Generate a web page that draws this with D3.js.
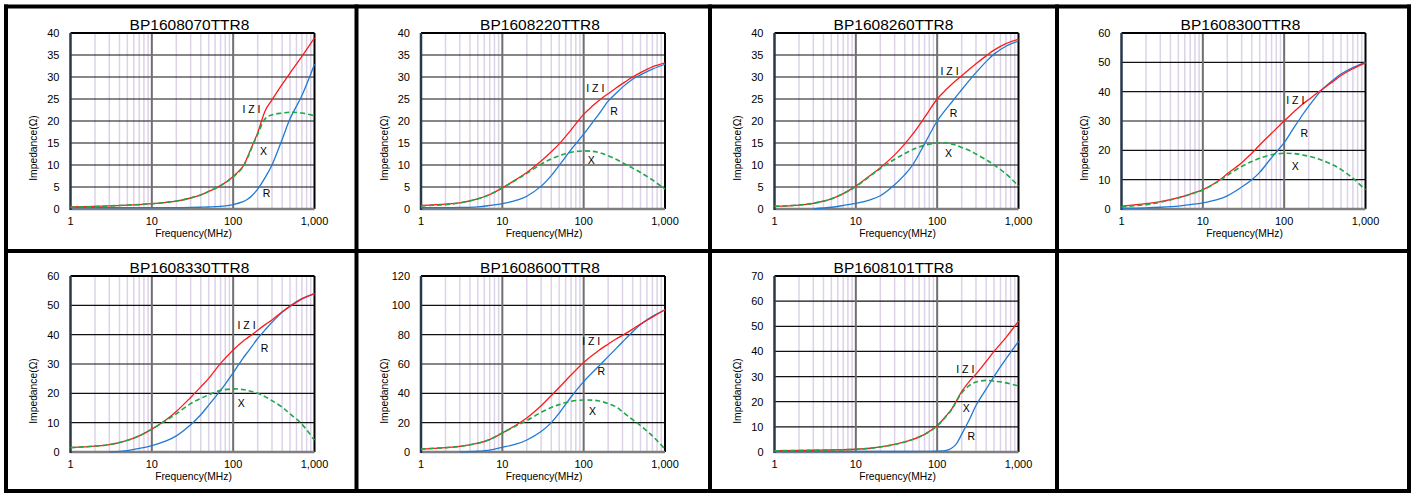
<!DOCTYPE html>
<html lang="en">
<head>
<meta charset="UTF-8">
<title>BP1608 Impedance vs Frequency</title>
<script src="https://d3js.org/d3.v7.min.js"></script>
<style>
    body { margin: 0; background: #fff; }
    svg text { font-family: "Liberation Sans", Arial, sans-serif; fill: #000; }
    .title { font-size: 15.5px; text-anchor: middle; }
    .tick { font-size: 11px; }
    .axis-title { font-size: 10.3px; text-anchor: middle; }
    .curve-label { font-size: 10.5px; text-anchor: middle; }
</style>
</head>
<body>
<svg id="main" width="1415" height="494"></svg>
<script>
    // frequency points (MHz) shared by every series
    const freq = [1, 2, 3, 5, 7, 10, 15, 20, 30, 40, 50, 70, 100, 130, 150, 170, 200, 250, 300, 400, 500, 700, 1000];

    const titles = ['BP1608070TTR8', 'BP1608220TTR8', 'BP1608260TTR8', 'BP1608300TTR8',
        'BP1608330TTR8', 'BP1608600TTR8', 'BP1608101TTR8'];
    const yMax = [40, 40, 40, 60, 60, 120, 70];
    const yStep = [5, 5, 5, 10, 10, 20, 10];
    const xTicks = [1, 10, 100, 1000];

    // |Z| (red)
    const zVals = [
        [0.5, 0.6, 0.7, 0.9, 1.0, 1.2, 1.5, 1.8, 2.5, 3.2, 4.0, 5.3, 7.4, 9.5, 11.8, 14.2, 17.3, 22.5, 24.8, 28.3, 30.9, 34.7, 38.9],
        [0.8, 1.1, 1.4, 2.3, 3.3, 4.8, 6.8, 8.3, 10.9, 13.0, 14.8, 18.0, 21.5, 23.5, 24.5, 25.3, 26.2, 27.5, 28.5, 30.0, 31.0, 32.3, 33.2],
        [0.6, 0.9, 1.3, 2.3, 3.5, 5.2, 7.6, 9.4, 12.3, 14.8, 17.0, 20.8, 25.0, 27.2, 28.3, 29.2, 30.3, 31.8, 33.0, 34.8, 36.1, 37.6, 38.6],
        [1.0, 1.8, 2.5, 3.9, 5.1, 6.6, 9.3, 12.0, 15.8, 19.0, 21.8, 25.8, 30.0, 33.0, 34.5, 35.8, 37.3, 39.4, 41.0, 43.5, 45.5, 47.8, 49.8],
        [1.5, 2.0, 2.5, 4.0, 5.5, 7.8, 11.0, 13.8, 18.6, 22.2, 25.1, 30.2, 34.8, 37.6, 38.9, 40.0, 41.5, 43.5, 45.0, 47.8, 49.6, 52.2, 54.0],
        [2.0, 3.0, 3.8, 6.0, 8.5, 13.0, 18.6, 23.2, 31.5, 38.5, 44.0, 52.5, 61.0, 66.2, 68.8, 71.0, 73.5, 77.0, 79.5, 83.8, 87.2, 92.0, 97.0],
        [0.5, 0.6, 0.7, 0.8, 0.9, 1.1, 1.5, 2.0, 3.0, 4.0, 5.0, 7.0, 10.5, 14.5, 17.0, 20.0, 24.0, 28.2, 31.0, 36.0, 40.0, 45.5, 52.0]
    ];

    // R (blue)
    const rVals = [
        [0.3, 0.3, 0.3, 0.3, 0.3, 0.3, 0.3, 0.3, 0.35, 0.4, 0.45, 0.6, 1.0, 1.6, 2.2, 3.0, 4.5, 7.3, 10.0, 15.8, 20.5, 25.8, 32.9],
        [0.3, 0.3, 0.35, 0.5, 0.8, 1.2, 2.0, 2.9, 5.2, 7.6, 9.9, 13.5, 17.0, 19.8, 21.3, 22.7, 24.5, 26.3, 27.7, 29.5, 30.5, 31.8, 32.9],
        [null, null, 0.05, 0.4, 0.8, 1.3, 2.1, 3.0, 5.5, 7.8, 10.0, 14.8, 20.0, 22.8, 24.2, 25.5, 27.1, 29.3, 31.0, 33.5, 35.2, 37.0, 38.2],
        [0.3, 0.4, 0.6, 1.0, 1.5, 2.1, 3.2, 4.5, 7.5, 10.0, 12.5, 17.5, 22.6, 27.5, 30.0, 32.3, 35.0, 38.5, 41.0, 44.0, 46.0, 48.2, 50.0],
        [null, null, 0.05, 0.5, 1.2, 2.2, 3.8, 5.5, 9.3, 12.7, 16.0, 21.0, 27.0, 31.7, 34.0, 36.0, 38.7, 41.8, 44.2, 47.6, 49.8, 52.3, 54.0],
        [null, null, 0.05, 0.5, 1.3, 3.2, 5.5, 8.2, 14.0, 20.0, 26.5, 37.5, 48.0, 54.5, 58.0, 61.0, 65.0, 70.5, 75.0, 82.0, 87.0, 92.5, 97.0],
        [0.2, 0.2, 0.2, 0.2, 0.2, 0.2, 0.2, 0.2, 0.2, 0.2, 0.2, 0.25, 0.3, 0.6, 1.5, 3.0, 7.0, 13.0, 18.5, 25.0, 30.0, 37.0, 44.0]
    ];

    // X (green, dashed)
    const xVals = [
        [0.4, 0.55, 0.7, 0.9, 1.0, 1.2, 1.5, 1.8, 2.5, 3.2, 4.0, 5.3, 7.3, 9.4, 11.6, 14.0, 17.0, 20.6, 21.4, 21.8, 22.0, 21.8, 21.2],
        [0.7, 1.0, 1.4, 2.3, 3.3, 4.8, 6.7, 8.1, 10.2, 11.4, 12.1, 12.9, 13.2, 13.1, 12.9, 12.6, 12.1, 11.3, 10.5, 9.3, 8.3, 6.6, 4.5],
        [0.6, 0.9, 1.3, 2.3, 3.5, 5.1, 7.5, 9.2, 11.3, 12.6, 13.5, 14.5, 15.0, 15.0, 14.8, 14.5, 14.0, 13.3, 12.5, 11.2, 10.0, 8.0, 5.2],
        [0.7, 1.5, 2.3, 3.8, 5.0, 6.5, 9.2, 11.5, 14.5, 16.2, 17.3, 18.5, 19.0, 18.9, 18.7, 18.4, 18.0, 17.3, 16.5, 15.0, 13.5, 10.5, 6.5],
        [1.5, 2.0, 2.5, 4.0, 5.5, 7.8, 10.8, 13.0, 16.5, 18.3, 19.5, 21.0, 21.5, 21.3, 21.0, 20.6, 20.0, 18.8, 17.5, 15.3, 13.0, 9.5, 4.0],
        [2.0, 3.0, 3.8, 6.0, 8.5, 13.0, 18.0, 21.5, 27.0, 30.3, 32.3, 34.5, 35.5, 35.3, 35.0, 34.3, 33.0, 30.8, 27.5, 22.0, 18.0, 11.0, 2.0],
        [0.5, 0.6, 0.7, 0.8, 0.9, 1.1, 1.5, 2.0, 3.0, 4.0, 5.0, 7.0, 10.4, 14.3, 16.8, 19.7, 23.5, 26.5, 27.8, 28.5, 28.2, 27.5, 26.3]
    ];

    // label anchors in data units [MHz, ohm]
    const labelZ = [[168, 22.7], [139, 27.5], [142, 31.4], [137, 37.2], [146, 43.2], [124, 75.4], [222, 33.2]];
    const labelR = [[257, 3.6], [237, 22.3], [159, 21.8], [177, 25.9], [243, 35.3], [165, 54.9], [263, 6.4]];
    const labelX = [[236, 13.2], [124, 11.1], [138, 12.7], [137, 14.7], [126, 16.8], [128, 28.1], [228, 17.6]];

    const colX = [6, 356.5, 710, 1057, 1409];
    const rowY = [6.5, 251, 491];

    const svg = d3.select('svg#main');
    const fmt = d3.format(',');

    titles.forEach(function (title, i) {
        const col = i % 4, row = Math.floor(i / 4);
        const left = colX[col] + 64.5, width = 244;
        const top = rowY[row] + (row === 0 ? 26.5 : 25), height = 176;
        const bottom = top + height;

        const xScale = d3.scaleLog().domain([1, 1000]).range([left, left + width]);
        const yScale = d3.scaleLinear().domain([0, yMax[i]]).range([bottom, top]);

        const g = svg.append('g');

        // minor vertical grid
        let minor = [];
        [1, 10, 100].forEach(function (dec) {
            for (let k = 2; k <= 9; k++) minor.push(dec * k);
        });
        g.selectAll('line.minor').data(minor).enter().append('line')
            .attr('x1', d => xScale(d)).attr('x2', d => xScale(d))
            .attr('y1', top).attr('y2', bottom)
            .attr('stroke', '#dcd3e8').attr('stroke-width', 1.5);

        // horizontal grid
        g.selectAll('line.hgrid').data(d3.range(yStep[i], yMax[i], yStep[i])).enter().append('line')
            .attr('x1', left).attr('x2', left + width)
            .attr('y1', d => yScale(d)).attr('y2', d => yScale(d))
            .attr('stroke', '#111').attr('stroke-width', 1.2);

        // major vertical grid
        g.selectAll('line.major').data([10, 100]).enter().append('line')
            .attr('x1', d => xScale(d)).attr('x2', d => xScale(d))
            .attr('y1', top).attr('y2', bottom)
            .attr('stroke', '#6f6f6f').attr('stroke-width', 2);

        // frame
        g.append('line').attr('x1', left).attr('x2', left + width).attr('y1', top).attr('y2', top)
            .attr('stroke', '#000').attr('stroke-width', 2);
        g.append('line').attr('x1', left + width).attr('x2', left + width).attr('y1', top).attr('y2', bottom)
            .attr('stroke', '#000').attr('stroke-width', 2);
        g.append('line').attr('x1', left).attr('x2', left + width).attr('y1', bottom).attr('y2', bottom)
            .attr('stroke', '#7f7f7f').attr('stroke-width', 2.5);
        g.append('line').attr('x1', left).attr('x2', left).attr('y1', top).attr('y2', bottom + 1)
            .attr('stroke', '#27384a').attr('stroke-width', 2.5);

        // curves
        const line = d3.line()
            .defined(d => d[1] != null)
            .x(d => xScale(d[0])).y(d => yScale(d[1]))
            .curve(d3.curveCatmullRom.alpha(0.5));
        const series = [
            {vals: rVals[i], color: '#1f7ad6', dash: null, w: 1.3},
            {vals: zVals[i], color: '#ff1a1a', dash: null, w: 1.3},
            {vals: xVals[i], color: '#1fa84a', dash: '5,3', w: 1.6}
        ];
        series.forEach(function (s) {
            g.append('path')
                .datum(freq.map((f, k) => [f, s.vals[k]]))
                .attr('d', line)
                .attr('fill', 'none')
                .attr('stroke', s.color)
                .attr('stroke-width', s.w)
                .attr('stroke-dasharray', s.dash);
        });

        // curve labels
        [[labelZ[i], 'I Z I'], [labelR[i], 'R'], [labelX[i], 'X']].forEach(function (l) {
            g.append('text').attr('class', 'curve-label')
                .attr('x', xScale(l[0][0])).attr('y', yScale(l[0][1]))
                .attr('dominant-baseline', 'central')
                .text(l[1]);
        });

        // y tick labels
        g.selectAll('text.ytick').data(d3.range(0, yMax[i] + 0.001, yStep[i])).enter().append('text')
            .attr('class', 'tick')
            .attr('x', left - 11).attr('y', d => yScale(d))
            .attr('text-anchor', 'end').attr('dominant-baseline', 'central')
            .text(d => d);

        // x tick labels
        g.selectAll('text.xtick').data(xTicks).enter().append('text')
            .attr('class', 'tick')
            .attr('x', d => xScale(d)).attr('y', bottom + 12)
            .attr('text-anchor', 'middle').attr('dominant-baseline', 'central')
            .text(d => fmt(d));

        // titles
        g.append('text').attr('class', 'title')
            .attr('x', left + width / 2 - 3).attr('y', top - 3.5)
            .text(title);
        g.append('text').attr('class', 'axis-title')
            .attr('x', left + width / 2 + 1).attr('y', bottom + 24)
            .attr('dominant-baseline', 'central')
            .text('Frequency(MHz)');
        g.append('text').attr('class', 'axis-title')
            .attr('transform', 'translate(' + (left - 37) + ',' + (top + 115) + ') rotate(-90)')
            .attr('dominant-baseline', 'central')
            .text('Impedance(Ω)');
    });

    // table borders
    svg.selectAll('line.vcell').data(colX).enter().append('line')
        .attr('x1', d => d).attr('x2', d => d)
        .attr('y1', rowY[0] - 2).attr('y2', rowY[2] + 2)
        .attr('stroke', '#000').attr('stroke-width', 4);
    svg.selectAll('line.hcell').data(rowY).enter().append('line')
        .attr('x1', colX[0] - 2).attr('x2', colX[4] + 2)
        .attr('y1', d => d).attr('y2', d => d)
        .attr('stroke', '#000').attr('stroke-width', 4);
</script>
</body>
</html>
